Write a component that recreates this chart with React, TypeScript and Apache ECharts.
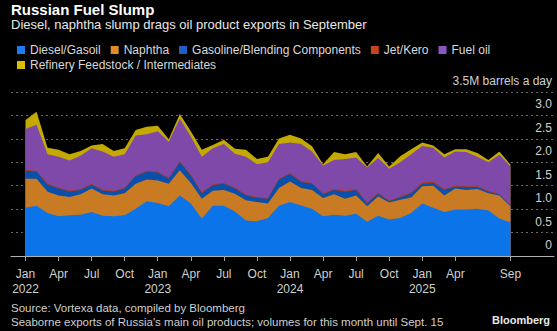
import React, { useEffect, useRef } from 'react';
import * as echarts from 'echarts';

const MONTH_NAMES = ['Jan', 'Feb', 'Mar', 'Apr', 'May', 'Jun', 'Jul', 'Aug', 'Sep', 'Oct', 'Nov', 'Dec'];
// Monthly categories Jan 2022 .. Sep 2025 (index = months since Jan 2022)
const months: string[] = Array.from({ length: 45 }, (_, i) => `${MONTH_NAMES[i % 12]} ${2022 + Math.floor(i / 12)}`);
const tickIdx = [0, 3, 6, 9, 12, 15, 18, 21, 24, 27, 30, 33, 36, 39, 44];

const diesel = [1.03, 1.07, 0.92, 0.85, 0.87, 0.88, 0.94, 0.86, 0.85, 0.87, 1.01, 1.17, 1.13, 1.06, 1.29, 1.12, 0.80, 1.07, 1.07, 0.95, 0.76, 0.74, 0.81, 1.07, 1.15, 1.08, 1.01, 0.85, 0.88, 0.86, 0.90, 0.73, 0.86, 0.78, 0.81, 0.92, 1.12, 1.03, 0.94, 0.99, 0.99, 1.01, 0.97, 0.80, 0.72];
const naphtha = [0.62, 0.58, 0.45, 0.44, 0.39, 0.44, 0.50, 0.46, 0.44, 0.47, 0.53, 0.46, 0.48, 0.48, 0.54, 0.44, 0.42, 0.32, 0.34, 0.38, 0.43, 0.41, 0.31, 0.38, 0.44, 0.37, 0.40, 0.39, 0.44, 0.36, 0.39, 0.33, 0.41, 0.36, 0.39, 0.33, 0.37, 0.47, 0.35, 0.45, 0.42, 0.42, 0.37, 0.49, 0.34];
const gasoline = [0.17, 0.15, 0.15, 0.15, 0.11, 0.09, 0.08, 0.08, 0.08, 0.10, 0.16, 0.17, 0.17, 0.11, 0.17, 0.16, 0.12, 0.12, 0.13, 0.11, 0.10, 0.09, 0.10, 0.18, 0.16, 0.13, 0.13, 0.08, 0.09, 0.15, 0.12, 0.06, 0.06, 0.03, 0.05, 0.09, 0.05, 0.06, 0.12, 0.04, 0.06, 0.04, 0.03, 0.02, 0.01];
const jetKero = [0.02, 0.02, 0.02, 0.02, 0.02, 0.02, 0.02, 0.02, 0.02, 0.02, 0.02, 0.02, 0.02, 0.02, 0.02, 0.02, 0.02, 0.02, 0.02, 0.02, 0.02, 0.02, 0.02, 0.02, 0.02, 0.02, 0.02, 0.02, 0.02, 0.02, 0.02, 0.02, 0.02, 0.02, 0.02, 0.02, 0.03, 0.03, 0.02, 0.02, 0.02, 0.02, 0.02, 0.02, 0.02];
const fuelOil = [0.87, 0.98, 0.63, 0.66, 0.65, 0.71, 0.76, 0.81, 0.73, 0.71, 0.85, 0.78, 0.86, 0.77, 0.91, 0.81, 0.76, 0.77, 0.83, 0.72, 0.81, 0.70, 0.76, 0.74, 0.65, 0.79, 0.67, 0.59, 0.62, 0.68, 0.67, 0.75, 0.74, 0.67, 0.73, 0.81, 0.78, 0.72, 0.67, 0.73, 0.73, 0.63, 0.61, 0.83, 0.82];
const refinery = [0.19, 0.28, 0.14, 0.15, 0.13, 0.10, 0.06, 0.16, 0.12, 0.13, 0.12, 0.16, 0.12, 0.05, 0.10, 0.11, 0.15, 0.07, 0.09, 0.11, 0.15, 0.11, 0.12, 0.12, 0.17, 0.12, 0.11, 0.03, 0.17, 0.10, 0.12, 0.02, 0.11, 0.05, 0.13, 0.11, 0.07, 0.05, 0.07, 0.05, 0.06, 0.08, 0.05, 0.07, 0.04];

const seriesDefs = [
  { name: 'Diesel/Gasoil', data: diesel, color: '#1a7cf0', area: '#0b74e8' },
  { name: 'Naphtha', data: naphtha, color: '#e38b2a', area: '#c97b24' },
  { name: 'Gasoline/Blending Components', data: gasoline, color: '#1f5fc4', area: '#0a50aa' },
  { name: 'Jet/Kero', data: jetKero, color: '#c4441c', area: '#a83a20' },
  { name: 'Fuel oil', data: fuelOil, color: '#8c55c4', area: '#7e49a8' },
  { name: 'Refinery Feedstock / Intermediates', data: refinery, color: '#d8bf00', area: '#c4a900' },
];

const FONT = '"Liberation Sans", Arial, sans-serif';

export default function App() {
  const ref = useRef<HTMLDivElement>(null);
  useEffect(() => {
    if (!ref.current) return;
    const chart = echarts.init(ref.current, undefined, { renderer: 'svg' });
    const legendText = { color: '#d9d9d9', fontSize: 12, fontFamily: FONT };

    // Cumulative (stacked) tops; drawn from the top layer down so each lower layer covers the previous.
    const running = new Array(months.length).fill(0);
    const stacked = seriesDefs.map((s) => {
      const tops = s.data.map((v, i) => {
        running[i] += v;
        return +running[i].toFixed(4);
      });
      return { ...s, tops };
    });
    const drawOrder = [...stacked].reverse();

    chart.setOption({
      animation: false,
      backgroundColor: '#000',
      textStyle: { fontFamily: FONT },
      legend: [
        {
          left: 12, top: 39, itemWidth: 8, itemHeight: 8, itemGap: 10, icon: 'rect',
          data: seriesDefs.slice(0, 5).map((s) => s.name), textStyle: legendText,
          itemStyle: { borderWidth: 0 }, selectedMode: false,
        },
        {
          left: 12, top: 54, itemWidth: 8, itemHeight: 8, itemGap: 10, icon: 'rect',
          data: [seriesDefs[5].name], textStyle: legendText,
          itemStyle: { borderWidth: 0 }, selectedMode: false,
        },
      ],
      grid: { left: 11, right: 3, top: 92, bottom: 75, containLabel: false },
      xAxis: {
        type: 'value',
        min: -1.316,
        max: 47.956,
        splitLine: { show: false },
        axisLine: { show: true, lineStyle: { color: '#b0b0b0', width: 1 } },
        axisTick: { show: true, customValues: tickIdx, length: 5, lineStyle: { color: '#a0a0a0' } },
        axisLabel: {
          customValues: tickIdx,
          color: '#d0d0d0',
          fontSize: 12,
          lineHeight: 15,
          margin: 10,
          fontFamily: FONT,
          formatter: (v: number) => {
            const i = Math.round(v);
            const [m, y] = months[i].split(' ');
            return i % 12 === 0 ? `${m}\n${y}` : m;
          },
        },
      },
      yAxis: {
        type: 'value',
        position: 'right',
        min: 0,
        max: 3.5,
        interval: 0.5,
        axisLine: { show: false },
        axisTick: { show: false },
        splitLine: { show: true, lineStyle: { color: '#6a6a6a', type: [2, 3], width: 1 } },
        axisLabel: {
          inside: true,
          margin: 2,
          color: '#d0d0d0',
          fontSize: 12,
          fontFamily: FONT,
          verticalAlign: 'bottom',
          lineHeight: 14,
          padding: [0, 0, 4, 0],
          formatter: (v: number) => (v === 0 ? '0' : v === 3.5 ? '3.5M barrels a day' : v.toFixed(1)),
        },
      },
      series: drawOrder.map((s) => ({
        name: s.name,
        type: 'line',
        symbol: 'none',
        color: s.color,
        itemStyle: { color: s.color },
        lineStyle: { width: 0 },
        areaStyle: { color: s.area, opacity: 1, origin: 'start' },
        data: s.tops.map((v, i) => [i, v]),
      })),
      graphic: [
        { type: 'text', left: 11, top: 2, style: { text: 'Russian Fuel Slump', fill: '#ffffff', font: `bold 15px ${FONT}` } },
        { type: 'text', left: 11, top: 18, style: { text: 'Diesel, naphtha slump drags oil product exports in September', fill: '#e8e8e8', font: `13px ${FONT}` } },
        { type: 'text', left: 11, top: 302, style: { text: 'Source: Vortexa data, compiled by Bloomberg', fill: '#cfcfcf', font: `11.5px ${FONT}` } },
        { type: 'text', left: 11, top: 316, style: { text: "Seaborne exports of Russia's main oil products; volumes for this month until Sept. 15", fill: '#cfcfcf', font: `11.5px ${FONT}` } },
        { type: 'text', right: 7, top: 314, style: { text: 'Bloomberg', fill: '#e8e8e8', font: `bold 11px ${FONT}` } },
      ],
    });
    return () => chart.dispose();
  }, []);
  return (
    <div
      ref={ref}
      style={{ position: 'absolute', left: 0, top: 0, width: 557, height: 331, background: '#000' }}
    />
  );
}
